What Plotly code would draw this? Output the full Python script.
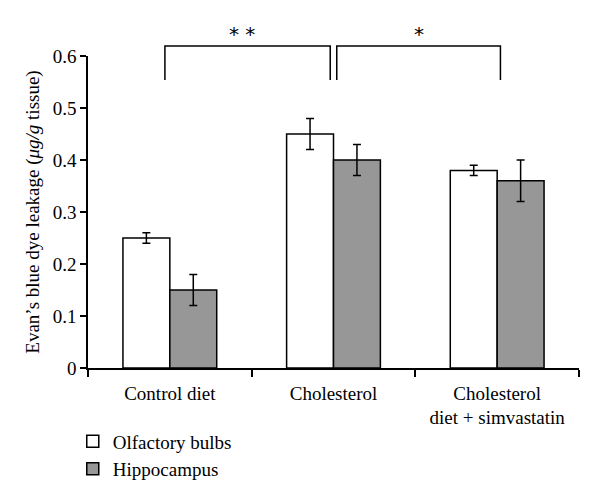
import plotly.graph_objects as go

categories = ["Control diet", "Cholesterol", "Cholesterol<br>diet + simvastatin"]
olfactory = [0.25, 0.45, 0.38]
olfactory_err = [0.01, 0.03, 0.01]
hippocampus = [0.15, 0.40, 0.36]
hippocampus_err = [0.03, 0.03, 0.04]
y_ticks = [0, 0.1, 0.2, 0.3, 0.4, 0.5, 0.6]
y_tick_labels = ["0", "0.1", "0.2", "0.3", "0.4", "0.5", "0.6"]

FONT = "Liberation Serif"
FS = 19
line = dict(color="black", width=1.5)

fig = go.Figure()
fig.add_trace(go.Bar(
    name="Olfactory bulbs", x=categories, y=olfactory,
    marker=dict(color="white", line=line),
    error_y=dict(type="data", array=olfactory_err, color="black", thickness=1.5, width=4),
))
fig.add_trace(go.Bar(
    name="Hippocampus", x=categories, y=hippocampus,
    marker=dict(color="#979797", line=line),
    error_y=dict(type="data", array=hippocampus_err, color="black", thickness=1.5, width=4),
))

ymax = 0.6
def py(v):
    return v / ymax

brackets = [(-0.03, 0.98, "* *", 0.44), (1.02, 2.02, "*", 1.52)]
for x0, x1, label, xm in brackets:
    fig.add_shape(type="path", xref="x", yref="paper",
                  path=f"M {x0},{py(0.554)} L {x0},{py(0.619)} L {x1},{py(0.619)} L {x1},{py(0.554)}",
                  line=dict(color="black", width=1.5))
    fig.add_annotation(x=xm, y=py(0.642), xref="x", yref="paper", text=label,
                       showarrow=False, yanchor="middle",
                       font=dict(family="DejaVu Sans", size=20, color="black"))

# page body has an 8px default margin; margins below compensate for it
fig.update_layout(
    width=600, height=498,
    margin=dict(l=80, r=29, t=48, b=138, autoexpand=False),
    paper_bgcolor="white", plot_bgcolor="white",
    barmode="group", bargap=0.427, bargroupgap=0,
    font=dict(family=FONT, size=FS, color="black"),
    showlegend=True,
    legend=dict(x=-0.031, y=-0.174, xanchor="left", yanchor="top", orientation="v",
                font=dict(family=FONT, size=FS), tracegroupgap=0, itemwidth=30,
                bgcolor="rgba(0,0,0,0)"),
    xaxis=dict(type="category", range=[-0.5, 2.5], tickson="boundaries",
               showline=True, linecolor="black", linewidth=1.5,
               ticks="outside", ticklen=7, tickcolor="black", tickwidth=1.5,
               showgrid=False, tickfont=dict(family=FONT, size=FS),
               ticklabelstandoff=7),
    yaxis=dict(range=[0, 0.6], tickvals=y_ticks, ticktext=y_tick_labels,
               showline=True, linecolor="black", linewidth=1.5,
               ticks="outside", ticklen=6, tickcolor="black", tickwidth=1.5,
               showgrid=False, zeroline=False, tickfont=dict(family=FONT, size=FS),
               title=dict(text="Evan’s blue dye leakage (<i>μg/g</i> tissue)",
                          font=dict(family=FONT, size=FS), standoff=8)),
)

fig.write_html("out.html")
